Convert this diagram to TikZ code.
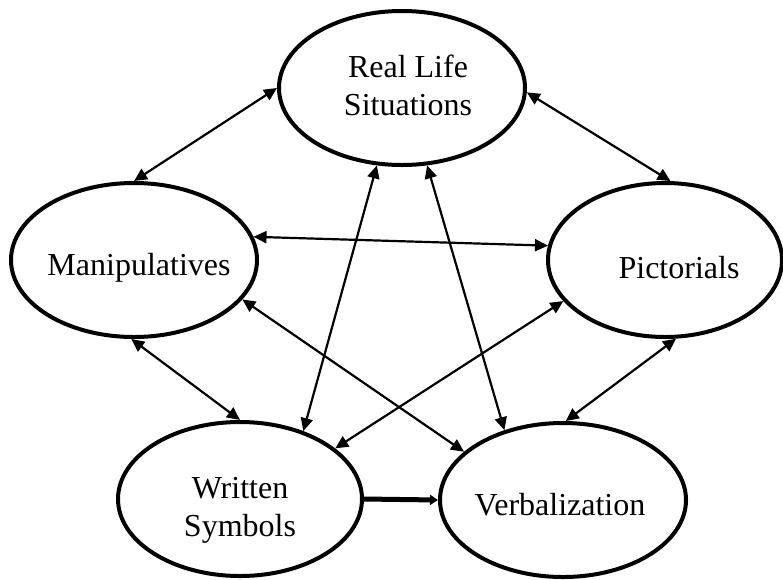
\documentclass[tikz,border=0pt]{standalone}
\usepackage{fontspec}
\setmainfont{Liberation Serif}
\usetikzlibrary{arrows.meta}
\usetikzlibrary{shapes.geometric}

\tikzset{
  bubble/.style={draw, ellipse, line width=4pt, inner sep=0pt, minimum height=154pt},
  caption/.style={font=\fontsize{32}{38}\selectfont, align=center, inner sep=0pt},
  link/.style={line width=2.2pt, {Triangle[length=13pt,width=12pt]}-{Triangle[length=13pt,width=12pt]}},
  flow/.style={line width=5pt, -{Triangle[length=8pt,width=10pt]}}
}

\begin{document}
\begin{tikzpicture}[x=1pt,y=-1pt]
    \useasboundingbox (0,0) rectangle (783,579);

    % Elipses
    \node[bubble, minimum width=246pt] (real) at (402,88) {};
    \node[bubble, minimum width=246pt] (manip) at (134,260) {};
    \node[bubble, minimum width=234pt] (pict) at (665,260) {};
    \node[bubble, minimum width=244pt] (written) at (240,499) {};
    \node[bubble, minimum width=246pt] (verbal) at (563,500) {};

    % Textos
    \node[caption] (realtext) at (408,85) {Real Life\\Situations};
    \node[caption] (maniptext) at (139,268) {Manipulatives};
    \node[caption] (picttext) at (679,268) {Pictorials};
    \node[caption] (writtentext) at (240,510) {Written\\Symbols};
    \node[caption] (verbaltext) at (560,505) {Verbalization};

    % Flechas dobles
    \draw[link] (real.180) -- (manip.90);
    \draw[link] (real.358) -- (pict.86);
    \draw[link] (manip.11) -- (pict.173);
    \draw[link] (real.252) -- (written.47);
    \draw[link] (real.288) -- (verbal.130);
    \draw[link] (manip.268) -- (written.90);
    \draw[link] (manip.340) -- (verbal.154);
    \draw[link] (pict.202) -- (written.28);
    \draw[link] (pict.278) -- (verbal.88);

    % Flecha gruesa
    \draw[flow] (written.0) -- (verbal.180);
\end{tikzpicture}
\end{document}
